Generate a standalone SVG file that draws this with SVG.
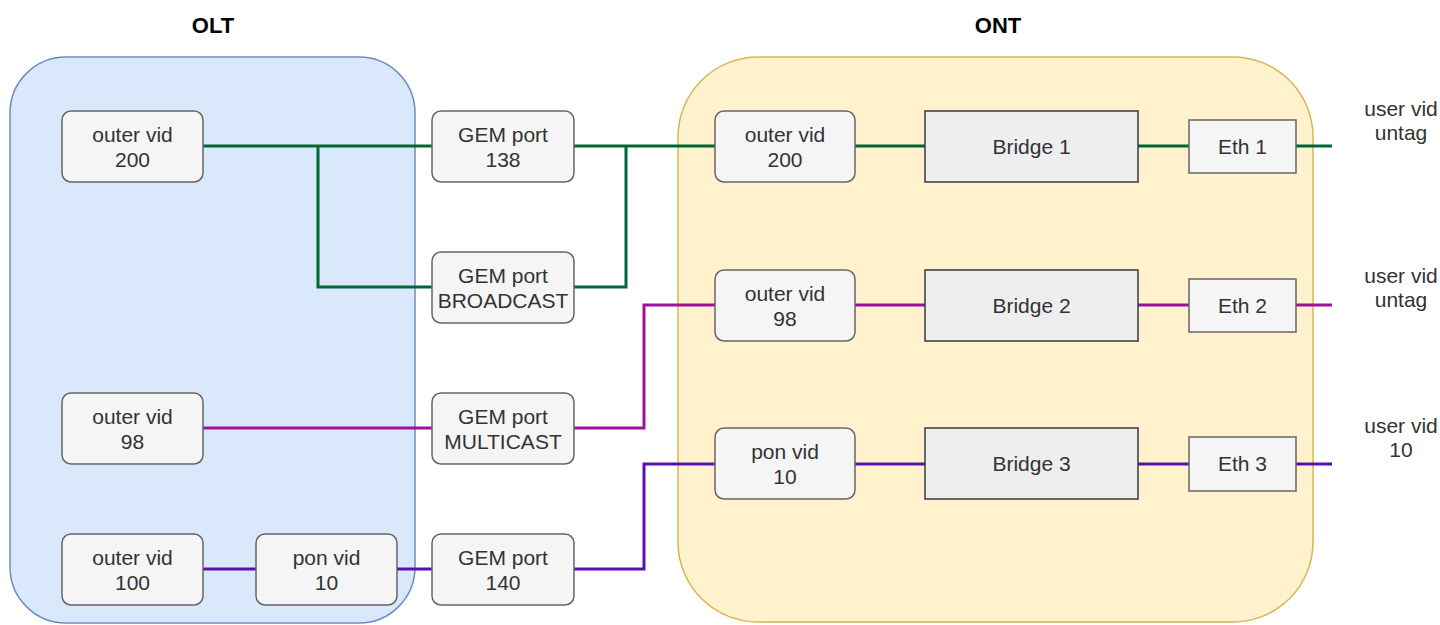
<svg xmlns="http://www.w3.org/2000/svg" width="1440" height="625" viewBox="0 0 1440 625">
<style>
text{font-family:"Liberation Sans",Arial,sans-serif;font-size:21px;fill:#333333;text-anchor:middle}
.title{font-weight:bold;font-size:22px;fill:#000}
.rb{fill:#f5f5f5;stroke:#666666;stroke-width:1.5}
.br{fill:#eeeeee;stroke:#36393d;stroke-width:1.5}
.eth{fill:#f5f5f5;stroke:#666666;stroke-width:1.5}
.c{fill:none;stroke-width:3}
.g{stroke:#006633}
.m{stroke:#a0109f}
.p{stroke:#5810b0}
</style>
<g id="olt">
<rect x="10" y="57" width="405" height="566" rx="56" ry="56" fill="#dae8fc" stroke="#6c8ebf" stroke-width="1.5"/>
<text class="title" x="213" y="33">OLT</text>
</g>
<g id="ont">
<rect x="678" y="57" width="635" height="565" rx="80" ry="80" fill="#fff2cc" stroke="#d6b656" stroke-width="1.5"/>
<text class="title" x="998" y="33">ONT</text>
</g>
<g id="connectors">
<path class="c g" d="M203 146H432M318 146V287H432M574 146H715M574 287H626V146M855 146H925M1138 146H1189M1296 146H1332"/>
<path class="c m" d="M203 428H432M574 428H644V305H715M855 305H925M1138 305H1189M1296 305H1332"/>
<path class="c p" d="M203 569H256M397 569H432M574 569H644V464H715M855 464H925M1138 464H1189M1296 464H1332"/>
</g>
<g id="olt-outer200"><rect class="rb" x="62" y="111" width="141" height="71" rx="9"/><text x="132.5" y="142">outer vid</text><text x="132.5" y="167">200</text></g>
<g id="olt-outer98"><rect class="rb" x="62" y="393" width="141" height="71" rx="9"/><text x="132.5" y="424">outer vid</text><text x="132.5" y="449">98</text></g>
<g id="olt-outer100"><rect class="rb" x="62" y="534" width="141" height="71" rx="9"/><text x="132.5" y="565">outer vid</text><text x="132.5" y="590">100</text></g>
<g id="olt-pon10"><rect class="rb" x="256" y="534" width="141" height="71" rx="9"/><text x="326.5" y="565">pon vid</text><text x="326.5" y="590">10</text></g>
<g id="gem138"><rect class="rb" x="432" y="111" width="142" height="71" rx="9"/><text x="503" y="142">GEM port</text><text x="503" y="167">138</text></g>
<g id="gembroadcast"><rect class="rb" x="432" y="252" width="142" height="71" rx="9"/><text x="503" y="283">GEM port</text><text x="503" y="308">BROADCAST</text></g>
<g id="gemmulticast"><rect class="rb" x="432" y="393" width="142" height="71" rx="9"/><text x="503" y="424">GEM port</text><text x="503" y="449">MULTICAST</text></g>
<g id="gem140"><rect class="rb" x="432" y="534" width="142" height="71" rx="9"/><text x="503" y="565">GEM port</text><text x="503" y="590">140</text></g>
<g id="ont-outer200"><rect class="rb" x="715" y="111" width="140" height="71" rx="9"/><text x="785" y="142">outer vid</text><text x="785" y="167">200</text></g>
<g id="ont-outer98"><rect class="rb" x="715" y="270" width="140" height="71" rx="9"/><text x="785" y="301">outer vid</text><text x="785" y="326">98</text></g>
<g id="ont-pon10"><rect class="rb" x="715" y="428" width="140" height="71" rx="9"/><text x="785" y="459">pon vid</text><text x="785" y="484">10</text></g>
<g id="bridge1"><rect class="br" x="925" y="111" width="213" height="71"/><text x="1031.5" y="154">Bridge 1</text></g>
<g id="bridge2"><rect class="br" x="925" y="270" width="213" height="71"/><text x="1031.5" y="313">Bridge 2</text></g>
<g id="bridge3"><rect class="br" x="925" y="428" width="213" height="71"/><text x="1031.5" y="471">Bridge 3</text></g>
<g id="eth1"><rect class="eth" x="1189" y="120" width="107" height="53"/><text x="1242.5" y="154">Eth 1</text></g>
<g id="eth2"><rect class="eth" x="1189" y="279" width="107" height="53"/><text x="1242.5" y="313">Eth 2</text></g>
<g id="eth3"><rect class="eth" x="1189" y="437" width="107" height="54"/><text x="1242.5" y="471">Eth 3</text></g>
<g id="user1"><text x="1401" y="116">user vid</text><text x="1401" y="140">untag</text></g>
<g id="user2"><text x="1401" y="283">user vid</text><text x="1401" y="307">untag</text></g>
<g id="user3"><text x="1401" y="433">user vid</text><text x="1401" y="457">10</text></g>
</svg>
